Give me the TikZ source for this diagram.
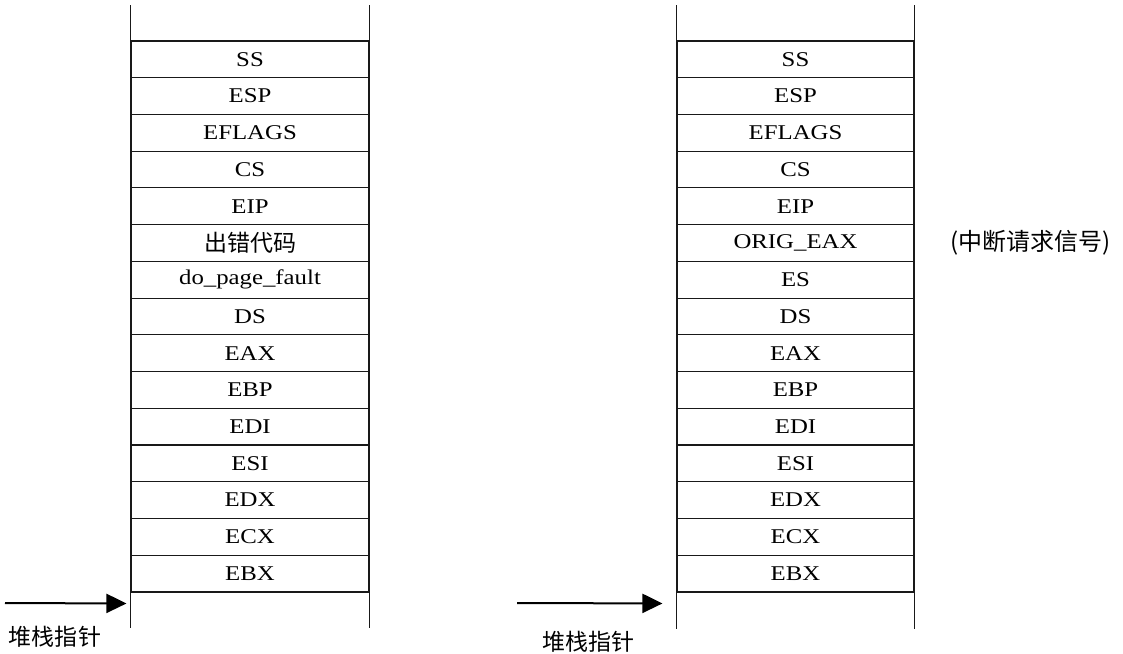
\documentclass[tikz,border=0pt]{standalone}
\usepackage{fontspec}
\setmainfont{Liberation Serif}[FakeStretch=1.18]
\newfontfamily\cjk{Noto Sans CJK SC}
\usetikzlibrary{arrows.meta, positioning}

\begin{document}
\begin{tikzpicture}[
    x=1pt, y=-1pt,
    cell/.style={draw=black!90, line width=1.1pt, minimum width=238pt, minimum height=36.73pt,
                 inner sep=0pt, font=\fontsize{21}{22}\selectfont},
    wall/.style={draw=black!90, line width=1.1pt},
    pointer/.style={-{Triangle[length=20pt, width=19pt]}, line width=2pt},
    cnlabel/.style={font=\cjk\fontsize{23}{24}\selectfont, inner sep=0pt}
]
    \useasboundingbox (0,0) rectangle (1123,653);

    % Left stack: page fault frame.
    \foreach \name [count=\i] in {SS, ESP, EFLAGS, CS, EIP, {\cjk\fontsize{23}{24}\selectfont 出错代码}, do\_page\_fault,
                                  DS, EAX, EBP, EDI, ESI, EDX, ECX, EBX}
        \node[cell] (L\i) at (250, {41+36.73*(\i-0.5)}) {\name};

    % Right stack: interrupt frame.
    \foreach \name [count=\i] in {SS, ESP, EFLAGS, CS, EIP, ORIG\_EAX, ES,
                                  DS, EAX, EBP, EDI, ESI, EDX, ECX, EBX}
        \node[cell, minimum width=237pt] (R\i) at (795.5, {41+36.73*(\i-0.5)}) {\name};

    % Open ends above and below each stack.
    \draw[wall] (L1.north west) -- ++(0,-35);
    \draw[wall] (L1.north east) -- ++(0,-35);
    \draw[wall] (L15.south west) -- ++(0,35);
    \draw[wall] (L15.south east) -- ++(0,35);
    \draw[wall] (R1.north west) -- ++(0,-35);
    \draw[wall] (R1.north east) -- ++(0,-35);
    \draw[wall] (R15.south west) -- ++(0,36);
    \draw[wall] (R15.south east) -- ++(0,36);

    % Stack pointers.
    \coordinate (Ltop) at ([yshift=-11pt]L15.south west);
    \coordinate (Lfrom) at (5, 603);
    \draw[pointer, shorten >=4pt] (Lfrom) -- (Ltop);
    \node[cnlabel] (Lsp) at (55, 637) {堆栈指针};

    \coordinate (Rtop) at ([yshift=-11pt]R15.south west);
    \coordinate (Rfrom) at (517, 603);
    \draw[pointer, shorten >=14pt] (Rfrom) -- (Rtop);
    \node[cnlabel] (Rsp) at (588, 642) {堆栈指针};

    \node[cnlabel, font=\cjk\fontsize{24}{26}\selectfont, right=36pt of R6] (irq) {(中断请求信号)};
\end{tikzpicture}
\end{document}
